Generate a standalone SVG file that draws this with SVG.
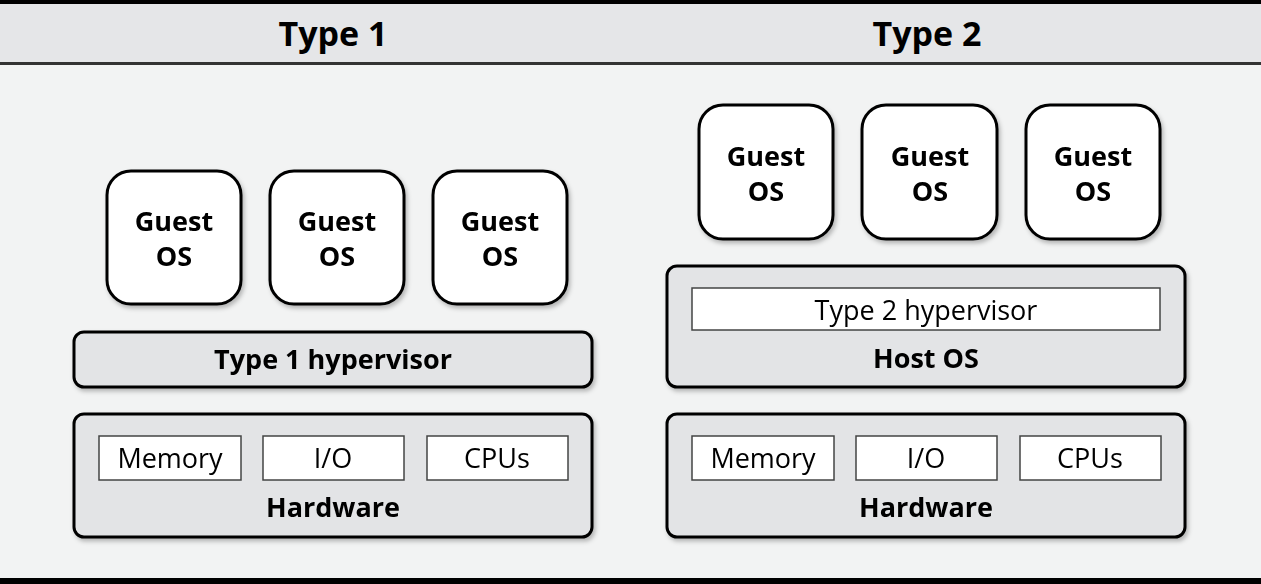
<svg xmlns="http://www.w3.org/2000/svg" width="1261" height="584" viewBox="0 0 1261 584">
<style>
text{font-family:"Open Sans","Liberation Sans",sans-serif;text-anchor:middle;fill:#000}
.b{font-weight:bold;font-size:27px}
.h{font-weight:bold;font-size:34px}
.r{font-size:27px}
.box{fill:#e3e4e6;stroke:#000;stroke-width:3}
.g{fill:#fff;stroke:#000;stroke-width:3}
.in{fill:#fff;stroke:#444;stroke-width:1.5}
</style>
<defs><filter id="s" x="-10%" y="-10%" width="130%" height="130%"><feDropShadow dx="2" dy="3" stdDeviation="2" flood-opacity="0.25"/></filter></defs>
<rect width="1261" height="584" fill="#f2f3f3"/>
<rect y="0" width="1261" height="64" fill="#e5e6e8"/>
<rect y="0" width="1261" height="4" fill="#000"/>
<rect y="62" width="1261" height="3" fill="#333"/>
<rect y="578" width="1261" height="6" fill="#000"/>
<text class="h" x="333" y="46">Type 1</text>
<text class="h" x="927" y="46">Type 2</text>
<g id="t1-guest1" filter="url(#s)"><rect class="g" x="107" y="171" width="134" height="133" rx="24"/><text class="b" x="174" y="231">Guest</text><text class="b" x="174" y="266">OS</text></g>
<g id="t1-guest2" filter="url(#s)"><rect class="g" x="270" y="171" width="134" height="133" rx="24"/><text class="b" x="337" y="231">Guest</text><text class="b" x="337" y="266">OS</text></g>
<g id="t1-guest3" filter="url(#s)"><rect class="g" x="433" y="171" width="134" height="133" rx="24"/><text class="b" x="500" y="231">Guest</text><text class="b" x="500" y="266">OS</text></g>
<g id="t1-hyp" filter="url(#s)"><rect class="box" x="74" y="332" width="518" height="55" rx="10"/><text class="b" x="333" y="369">Type 1 hypervisor</text></g>
<g id="t1-hw" filter="url(#s)"><rect class="box" x="74" y="414" width="518" height="123" rx="10"/>
<rect class="in" x="99" y="436" width="142" height="44"/><text class="r" x="170" y="468">Memory</text>
<rect class="in" x="263" y="436" width="141" height="44"/><text class="r" x="333" y="468">I/O</text>
<rect class="in" x="427" y="436" width="141" height="44"/><text class="r" x="497" y="468">CPUs</text>
<text class="b" x="333" y="517">Hardware</text></g>
<g id="t2-guest1" filter="url(#s)"><rect class="g" x="699" y="105" width="134" height="134" rx="24"/><text class="b" x="766" y="166">Guest</text><text class="b" x="766" y="201">OS</text></g>
<g id="t2-guest2" filter="url(#s)"><rect class="g" x="862" y="105" width="135" height="134" rx="24"/><text class="b" x="930" y="166">Guest</text><text class="b" x="930" y="201">OS</text></g>
<g id="t2-guest3" filter="url(#s)"><rect class="g" x="1026" y="105" width="134" height="134" rx="24"/><text class="b" x="1093" y="166">Guest</text><text class="b" x="1093" y="201">OS</text></g>
<g id="t2-host" filter="url(#s)"><rect class="box" x="667" y="266" width="518" height="121" rx="10"/>
<rect class="in" x="692" y="288" width="468" height="42"/><text class="r" x="926" y="320">Type 2 hypervisor</text>
<text class="b" x="926" y="368">Host OS</text></g>
<g id="t2-hw" filter="url(#s)"><rect class="box" x="667" y="414" width="518" height="123" rx="10"/>
<rect class="in" x="692" y="436" width="142" height="44"/><text class="r" x="763" y="468">Memory</text>
<rect class="in" x="856" y="436" width="141" height="44"/><text class="r" x="926" y="468">I/O</text>
<rect class="in" x="1020" y="436" width="141" height="44"/><text class="r" x="1090" y="468">CPUs</text>
<text class="b" x="926" y="517">Hardware</text></g>
<g id="connectors"/>
</svg>
